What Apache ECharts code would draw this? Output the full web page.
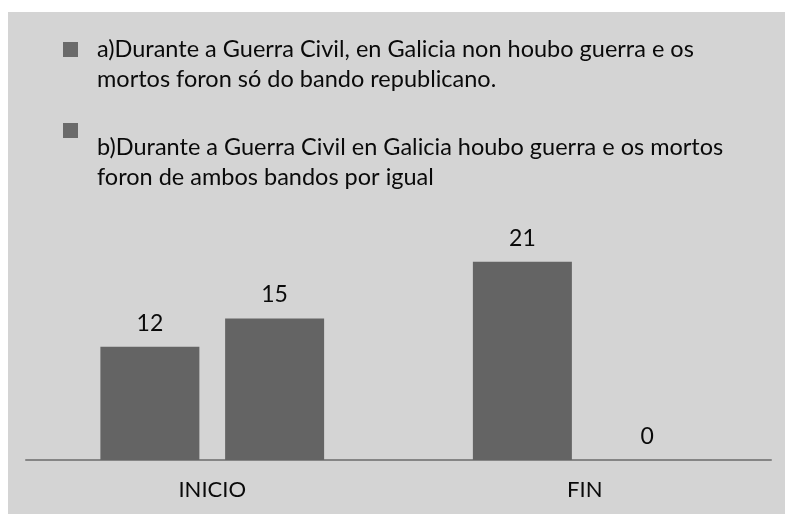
<!DOCTYPE html>
<html>
<head>
<meta charset="utf-8">
<script src="https://cdn.jsdelivr.net/npm/echarts@6/dist/echarts.min.js"></script>
<style>
html,body{margin:0;padding:0;background:#ffffff;width:785px;height:514px;overflow:hidden;}
#chart{position:absolute;left:8px;top:12px;width:777px;height:502px;}
</style>
</head>
<body>
<div id="chart"></div>
<script>
const categories = ['INICIO', 'FIN'];
const seriesNames = [
  'a)Durante a Guerra Civil, en Galicia non houbo guerra e os\nmortos foron só do bando republicano.',
  'b)Durante a Guerra Civil en Galicia houbo guerra e os mortos\nforon de ambos bandos por igual'
];
const seriesA = [12, 21];
const seriesB = [15, 0];

const FONT = 'Lato';
const barColor = '#646464';
const chart = echarts.init(document.getElementById('chart'));

const legendItems = [
  { markerY: 30, textY: 22 },
  { markerY: 111, textY: 120 }
];

chart.setOption({
  backgroundColor: '#d4d4d4',
  animation: false,
  textStyle: { fontFamily: FONT },
  grid: { left: 18, right: 14, top: 212, bottom: 54, containLabel: false },
  xAxis: {
    type: 'category',
    data: categories,
    axisLine: { lineStyle: { color: '#858585', width: 2 } },
    axisTick: { show: false },
    axisLabel: { color: '#0a0a0a', fontSize: 22, fontFamily: FONT, margin: 19 }
  },
  yAxis: {
    type: 'value', min: 0, max: 25, show: false,
    splitLine: { show: false }
  },
  graphic: seriesNames.map((name, i) => ({
    type: 'group',
    children: [
      { type: 'rect', shape: { x: 55, y: legendItems[i].markerY, width: 15, height: 15 },
        style: { fill: '#6a6a6a' } },
      { type: 'text', x: 89, y: legendItems[i].textY,
        style: { text: name, fill: '#0a0a0a', font: '23.5px ' + FONT, lineHeight: 30, verticalAlign: 'top' } }
    ]
  })),
  series: [
    { name: seriesNames[0], type: 'bar', data: seriesA, barWidth: 99, barGap: '26%',
      itemStyle: { color: barColor },
      label: { show: true, position: 'top', distance: 12, color: '#0a0a0a', fontSize: 23, fontFamily: FONT } },
    { name: seriesNames[1], type: 'bar', data: seriesB, barWidth: 99, barGap: '26%',
      itemStyle: { color: barColor },
      label: { show: true, position: 'top', distance: 12, color: '#0a0a0a', fontSize: 23, fontFamily: FONT } }
  ]
});
</script>
</body>
</html>
